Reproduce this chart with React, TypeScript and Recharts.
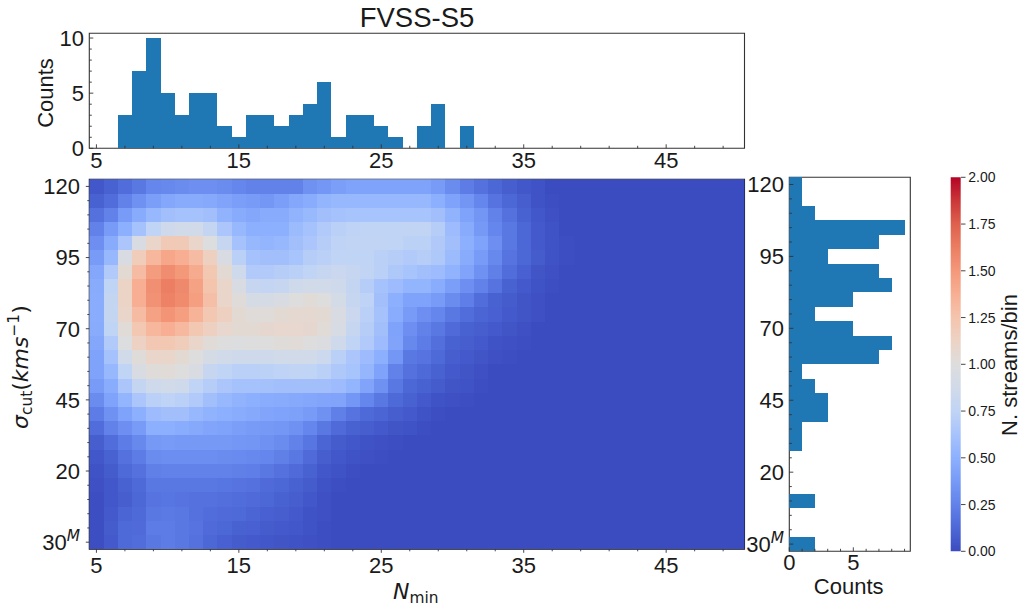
import React from "react";
import { ComposedChart, ScatterChart, Scatter, Bar, XAxis, YAxis, ReferenceArea } from "recharts";

// ---------- data ----------
const nMinValues = [5,6,7,8,9,10,11,12,13,14,15,16,17,18,19,20,21,22,23,24,25,26,27,28,29,30,31,32,33,34,35,36,37,38,39,40,41,42,43,44,45,46,47,48,49,50];
const sigmaValues = [120,115,110,105,100,95,90,85,80,75,70,65,60,55,50,45,40,35,30,25,20,15,10,5,0,-5];

// Streams per bin; each row runs from N_min = 5 rightwards, cells not listed are empty.
const heatRows: number[][] = [
  [.05,.1,.15,.2,.27,.28,.3,.32,.32,.3,.27,.25,.25,.25,.25,.33,.36,.4,.42,.42,.42,.42,.42,.42,.38,.3,.22,.17,.12,.08,.05,.03],
  [.1,.15,.25,.33,.4,.45,.47,.47,.46,.43,.4,.38,.36,.4,.45,.48,.53,.55,.55,.55,.55,.55,.55,.55,.5,.42,.35,.27,.18,.12,.08,.03,.01],
  [.17,.25,.38,.47,.55,.6,.62,.62,.6,.52,.47,.45,.47,.47,.52,.56,.6,.62,.63,.63,.63,.63,.63,.63,.6,.52,.42,.35,.25,.17,.1,.05,.02],
  [.25,.38,.5,.62,.75,.85,.88,.88,.78,.65,.55,.5,.5,.5,.57,.62,.68,.72,.74,.75,.75,.75,.76,.76,.7,.58,.47,.37,.27,.2,.12,.06,.03],
  [.32,.47,.65,.95,1.1,1.2,1.2,1.1,.98,.8,.62,.55,.53,.55,.6,.65,.7,.74,.76,.76,.76,.75,.73,.73,.67,.6,.5,.42,.32,.2,.12,.06,.03,.01],
  [.38,.55,.95,1.18,1.33,1.42,1.38,1.3,1.15,.95,.72,.62,.6,.6,.63,.7,.72,.75,.75,.75,.72,.7,.68,.7,.66,.57,.47,.38,.28,.18,.12,.07,.03,.01],
  [.45,.68,1.05,1.3,1.48,1.55,1.5,1.4,1.22,1.05,.85,.68,.68,.7,.72,.75,.8,.82,.8,.76,.72,.66,.63,.6,.58,.52,.43,.33,.24,.15,.09,.04,.02],
  [.47,.75,1.12,1.38,1.54,1.62,1.57,1.45,1.25,1.1,.95,.8,.77,.8,.85,.88,.88,.85,.78,.7,.62,.58,.53,.53,.48,.4,.32,.25,.18,.1,.06,.03,.01],
  [.48,.78,1.12,1.38,1.53,1.6,1.56,1.47,1.28,1.1,1.02,.92,.92,.95,1,1.03,1,.9,.8,.74,.6,.5,.42,.42,.38,.3,.23,.15,.1,.07,.04,.02],
  [.48,.78,1.1,1.3,1.45,1.52,1.47,1.35,1.22,1.15,1.05,1.02,1.02,1.05,1.06,1.06,1.05,.95,.82,.72,.62,.48,.38,.32,.27,.2,.15,.11,.09,.06,.04,.02],
  [.47,.75,1.03,1.22,1.33,1.38,1.32,1.22,1.15,1.08,1.05,1.05,1.07,1.08,1.08,1.07,1.03,.93,.8,.7,.6,.42,.32,.25,.2,.14,.1,.08,.06,.04,.02],
  [.45,.68,.98,1.14,1.22,1.22,1.18,1.1,1.03,1,.98,1,1,1.02,1.03,1,.97,.85,.75,.68,.58,.43,.28,.22,.16,.1,.08,.06,.03,.02,.01],
  [.42,.62,.88,1.02,1.1,1.1,1.05,1,.92,.88,.85,.85,.85,.87,.88,.87,.83,.72,.65,.58,.5,.36,.2,.18,.13,.08,.06,.04,.02,.01],
  [.42,.55,.75,.95,1.02,1.03,1,.95,.8,.75,.72,.72,.73,.74,.76,.75,.72,.66,.63,.54,.42,.25,.17,.13,.1,.06,.04,.02],
  [.38,.48,.65,.78,.85,.87,.85,.75,.7,.65,.62,.62,.61,.6,.6,.6,.6,.58,.53,.43,.33,.2,.12,.1,.07,.04,.03,.01],
  [.3,.42,.53,.65,.72,.74,.72,.68,.6,.55,.52,.5,.48,.47,.46,.45,.44,.43,.36,.27,.2,.13,.1,.06,.03,.02,.01],
  [.22,.33,.42,.5,.58,.6,.6,.55,.52,.5,.48,.46,.44,.42,.41,.38,.33,.24,.18,.13,.11,.08,.06,.03,.01],
  [.15,.25,.32,.38,.5,.5,.48,.46,.44,.42,.4,.38,.37,.36,.33,.27,.2,.14,.1,.08,.06,.04,.03,.01],
  [.08,.15,.22,.28,.37,.38,.37,.37,.37,.37,.36,.35,.33,.3,.25,.19,.11,.07,.05,.03,.02,.01],
  [.05,.1,.17,.22,.3,.31,.31,.31,.31,.3,.29,.28,.27,.24,.2,.14,.08,.05,.03,.02,.01],
  [.03,.07,.13,.17,.24,.25,.25,.25,.25,.25,.24,.23,.2,.17,.14,.1,.05,.03,.01],
  [.02,.05,.1,.13,.2,.2,.2,.2,.2,.19,.18,.17,.14,.12,.1,.07,.03,.01],
  [.01,.05,.08,.12,.18,.19,.18,.17,.17,.16,.15,.14,.12,.1,.08,.05,.02],
  [.01,.06,.11,.13,.2,.21,.2,.17,.15,.14,.13,.11,.09,.08,.06,.03,.02],
  [.01,.07,.13,.14,.22,.22,.2,.18,.14,.12,.1,.09,.07,.06,.05,.03,.01],
  [.01,.06,.13,.15,.2,.22,.2,.17,.12,.09,.07,.06,.05,.04,.03,.02,.01],
];

const topCounts = [0,0,3,7,10,5,3,5,5,2,1,3,3,2,3,4,6,1,3,3,2,1,0,2,4,0,2,0,0,0,0,0,0,0,0,0,0,0,0,0,0,0,0,0,0,0];
const rightCounts = [1,1,2,9,7,3,7,8,5,2,5,8,7,1,2,3,3,1,1,0,0,0,2,0,0,2];

const xMajor = [5,15,25,35,45];
const xMinor = [7,9,11,13,17,19,21,23,27,29,31,33,37,39,41,43,47,49];
const yMajor = [-5,20,45,70,95,120];
const yMinor = [0,5,10,15,25,30,35,40,50,55,60,65,75,80,85,90,100,105,110,115];
const topYMajor = [0,5,10];
const topYMinor = [1,2,3,4,6,7,8,9];
const rightXMajor = [0,5];
const rightXMinor = [1,2,3,4,6,7,8,9];
const cbarTicks = [0,0.25,0.5,0.75,1,1.25,1.5,1.75,2];

const coolwarm: [number, number[]][] = [
  [0,[59,76,192]],[0.0625,[77,104,215]],[0.125,[98,130,234]],[0.1875,[119,154,247]],[0.25,[141,176,254]],
  [0.3125,[167,195,252]],[0.375,[192,212,245]],[0.4375,[209,218,233]],[0.5,[221,221,221]],
  [0.5625,[236,211,197]],[0.625,[245,196,173]],[0.6875,[247,175,147]],[0.75,[244,152,122]],
  [0.8125,[235,125,98]],[0.875,[222,96,77]],[0.9375,[203,54,56]],[1,[180,4,38]],
];

// ---------- helpers ----------
const W = 1027, H = 612;
const SANS = "'Liberation Sans', Arial, sans-serif";
const MATH = "'DejaVu Sans', sans-serif";
const INK = "#1a1a1a";
const TICK = "#333";
const AX = 40; // room reserved for each axis

const main = { l: 89.3, r: 744.5, t: 179.3, b: 549.3 };
const top = { l: 89.3, r: 744.5, t: 33.3, b: 148.3 };
const side = { l: 789.3, r: 910.3, t: 177.3, b: 551.3 };
const cbar = { l: 950.7, r: 961, t: 177.3, b: 551.3 };
const marginOf = (p: { l: number; r: number; t: number; b: number }) => ({ left: p.l - AX, right: W - p.r, top: p.t, bottom: H - p.b - AX });

function colorOf(v: number) {
  const t = Math.max(0, Math.min(1, v / 2));
  for (let i = 1; i < coolwarm.length; i++) {
    if (t <= coolwarm[i][0]) {
      const [a, ca] = coolwarm[i - 1];
      const [b, cb] = coolwarm[i];
      const f = (t - a) / (b - a);
      const c = ca.map((q, k) => Math.round(q + (cb[k] - q) * f));
      return `rgb(${c[0]},${c[1]},${c[2]})`;
    }
  }
  return "rgb(180,4,38)";
}

const heatData = heatRows.flatMap((row, i) =>
  nMinValues.map((x, j) => ({ x, y: sigmaValues[i], v: row[j] ?? 0 }))
);
const topData = nMinValues.map((x, i) => ({ x, c: topCounts[i] }));
const rightData = sigmaValues.map((y, i) => ({ y, c: rightCounts[i] }));
const cbarData = [{ name: "cbar", v: 2 }];

const cellW = (main.r - main.l) / nMinValues.length;
const cellH = (main.b - main.t) / sigmaValues.length;
const sideBandH = (side.b - side.t) / sigmaValues.length;

// Snap an edge-to-edge rectangle to whole pixels so neighbours share their edges.
const snapped = (x: number, y: number, w: number, h: number, fill: string) => {
  const x0 = Math.round(x), x1 = Math.round(x + w), y0 = Math.round(y), y1 = Math.round(y + h);
  return <rect x={x0} y={y0} width={x1 - x0} height={y1 - y0} fill={fill} stroke="none" shapeRendering="crispEdges" />;
};

const HeatCell = (p: any) => snapped(p.cx - cellW / 2, p.cy - cellH / 2, cellW, cellH, colorOf(p.payload.v));

// The library floors a bar's thickness to whole pixels; restore the full bin width.
const TopBar = (p: any) => (p.height > 0 ? snapped(p.x, p.y, cellW, p.height, "#1f77b4") : <g />);
const SideBar = (p: any) => (p.width > 0 ? snapped(p.x, p.y, p.width, sideBandH, "#1f77b4") : <g />);

const XTicks = (majors: number[], dir: number, major: number, minor: number, base: number, fs: number) => (p: any) => {
  const isMajor = majors.includes(Number(p.payload.value));
  const len = isMajor ? major : minor;
  return (
    <g>
      <line x1={p.x} x2={p.x} y1={p.y} y2={p.y + dir * len} stroke={TICK} strokeWidth={0.9} />
      {isMajor && (
        <text x={p.x} y={p.y + base} textAnchor="middle" fontSize={fs} fontFamily={SANS} fill={INK}>{p.payload.value}</text>
      )}
    </g>
  );
};

const YTicks = (majors: number[], dir: number, major: number, minor: number, off: number, fs: number, right = false, fmt?: (v: number) => React.ReactNode) => (p: any) => {
  const v = Number(p.payload.value);
  const isMajor = majors.includes(v);
  const len = isMajor ? major : minor;
  return (
    <g>
      <line x1={p.x} x2={p.x + dir * len} y1={p.y} y2={p.y} stroke={TICK} strokeWidth={0.9} />
      {isMajor && (
        <text x={right ? p.x + off : p.x - off} y={p.y + fs * 0.36} textAnchor={right ? "start" : "end"} fontSize={fs} fontFamily={SANS} fill={INK}>
          {fmt ? fmt(v) : v}
        </text>
      )}
    </g>
  );
};

const sigmaTick = (v: number) =>
  v === -5 ? (
    <>
      <tspan>30</tspan>
      <tspan fontFamily={MATH} fontStyle="italic" fontSize={15.4} dy={-9}>M</tspan>
    </>
  ) : (
    v
  );

const Frame = ({ x1, x2, y1, y2, color }: any) => (
  <ReferenceArea x1={x1} x2={x2} y1={y1} y2={y2} fill="none" fillOpacity={0} stroke={color} strokeWidth={1.1} ifOverflow="visible" />
);

const layer: React.CSSProperties = { position: "absolute", left: 0, top: 0 };
const bare = { tickSize: 0, tickMargin: 0, tickLine: false, axisLine: false, interval: 0 as const };

export default function App() {
  return (
    <div style={{ position: "absolute", left: 0, top: 0, width: W, height: H, background: "#fff", overflow: "hidden" }}>
      {/* top histogram */}
      <div style={layer}>
        <ComposedChart width={W} height={H} data={topData} margin={marginOf(top)} barCategoryGap={0}>
          <XAxis dataKey="x" type="category" ticks={[...xMajor, ...xMinor]} height={AX} {...bare} tick={XTicks(xMajor, -1, 4, 2.5, 19.7, 22)} />
          <YAxis type="number" domain={[0, 10.43]} allowDataOverflow ticks={[...topYMajor, ...topYMinor]} width={AX} {...bare} tick={YTicks(topYMajor, 1, 4, 2.5, 5.3, 22)} />
          <Bar dataKey="c" fill="#1f77b4" shape={TopBar} isAnimationActive={false} />
          {Frame({ x1: 5, x2: 50, y1: 0, y2: 10.43, color: "#333" })}
        </ComposedChart>
      </div>

      {/* main heat map */}
      <div style={layer}>
        <ScatterChart width={W} height={H} margin={marginOf(main)}>
          <XAxis dataKey="x" type="number" domain={[4.5, 50.5]} allowDataOverflow ticks={[...xMajor, ...xMinor]} height={AX} {...bare} tick={XTicks(xMajor, 1, 3.5, 2, 23.7, 22)} />
          <YAxis dataKey="y" type="number" domain={[-7.5, 122.5]} allowDataOverflow ticks={[...yMajor, ...yMinor]} width={AX} {...bare} tick={YTicks(yMajor, -1, 3.5, 2, 9.3, 22, false, sigmaTick)} />
          <Scatter data={heatData} shape={HeatCell} isAnimationActive={false} />
          {Frame({ x1: 4.5, x2: 50.5, y1: -7.5, y2: 122.5, color: "#111" })}
        </ScatterChart>
      </div>

      {/* right histogram */}
      <div style={layer}>
        <ComposedChart width={W} height={H} data={rightData} layout="vertical" margin={marginOf(side)} barCategoryGap={0}>
          <XAxis type="number" domain={[0, 9.45]} allowDataOverflow ticks={[...rightXMajor, ...rightXMinor]} height={AX} {...bare} tick={XTicks(rightXMajor, -1, 4, 2.5, 18.7, 22)} />
          <YAxis type="category" dataKey="y" ticks={[...yMajor, ...yMinor]} width={AX} {...bare} tick={YTicks(yMajor, 1, 4, 2.5, 5.3, 22, false, sigmaTick)} />
          <Bar dataKey="c" fill="#1f77b4" shape={SideBar} isAnimationActive={false} />
          {Frame({ x1: 0, x2: 9.45, y1: 120, y2: -5, color: "#333" })}
        </ComposedChart>
      </div>

      {/* colour bar */}
      <div style={layer}>
        <ComposedChart width={W} height={H} data={cbarData} margin={{ left: cbar.l, right: W - cbar.r - AX, top: cbar.t, bottom: H - cbar.b }} barCategoryGap={0}>
          <defs>
            <linearGradient id="coolwarmBar" x1="0" y1="1" x2="0" y2="0">
              {coolwarm.map(([o, c]) => (
                <stop key={o} offset={o} stopColor={`rgb(${c[0]},${c[1]},${c[2]})`} />
              ))}
            </linearGradient>
          </defs>
          <XAxis dataKey="name" type="category" hide />
          <YAxis type="number" orientation="right" domain={[0, 2]} ticks={cbarTicks} width={AX} {...bare} tick={YTicks(cbarTicks, 1, 4.5, 4.5, 7.3, 14, true, (v) => v.toFixed(2))} />
          <Bar dataKey="v" fill="url(#coolwarmBar)" isAnimationActive={false} />
        </ComposedChart>
      </div>

      {/* titles */}
      <svg width={W} height={H} style={{ ...layer, pointerEvents: "none" }}>
        <text x={417} y={27} textAnchor="middle" fontSize={27.5} fontFamily={SANS} fill={INK}>FVSS-S5</text>
        <text transform="translate(52.7,93) rotate(-90)" textAnchor="middle" fontSize={22} fontFamily={SANS} fill={INK}>Counts</text>
        <text x={848.7} y={594} textAnchor="middle" fontSize={22} fontFamily={SANS} fill={INK}>Counts</text>
        <text transform="translate(1016.7,365) rotate(-90)" textAnchor="middle" fontSize={22} fontFamily={SANS} fill={INK}>N. streams/bin</text>
        <text x={393} y={599} fontSize={22} fontFamily={MATH} fill={INK}>
          <tspan fontStyle="italic">N</tspan>
          <tspan fontSize={15.4} dy={3.5}>min</tspan>
        </text>
        <text transform="translate(28,429) rotate(-90)" fontSize={22} fontFamily={MATH} fill={INK}>
          <tspan fontStyle="italic">σ</tspan>
          <tspan fontSize={15.4} dy={3.5}>cut</tspan>
          <tspan dy={-3.5}>(</tspan>
          <tspan fontStyle="italic">kms</tspan>
          <tspan fontSize={15.4} dy={-9}>−1</tspan>
          <tspan dy={9}>)</tspan>
        </text>
      </svg>
    </div>
  );
}
